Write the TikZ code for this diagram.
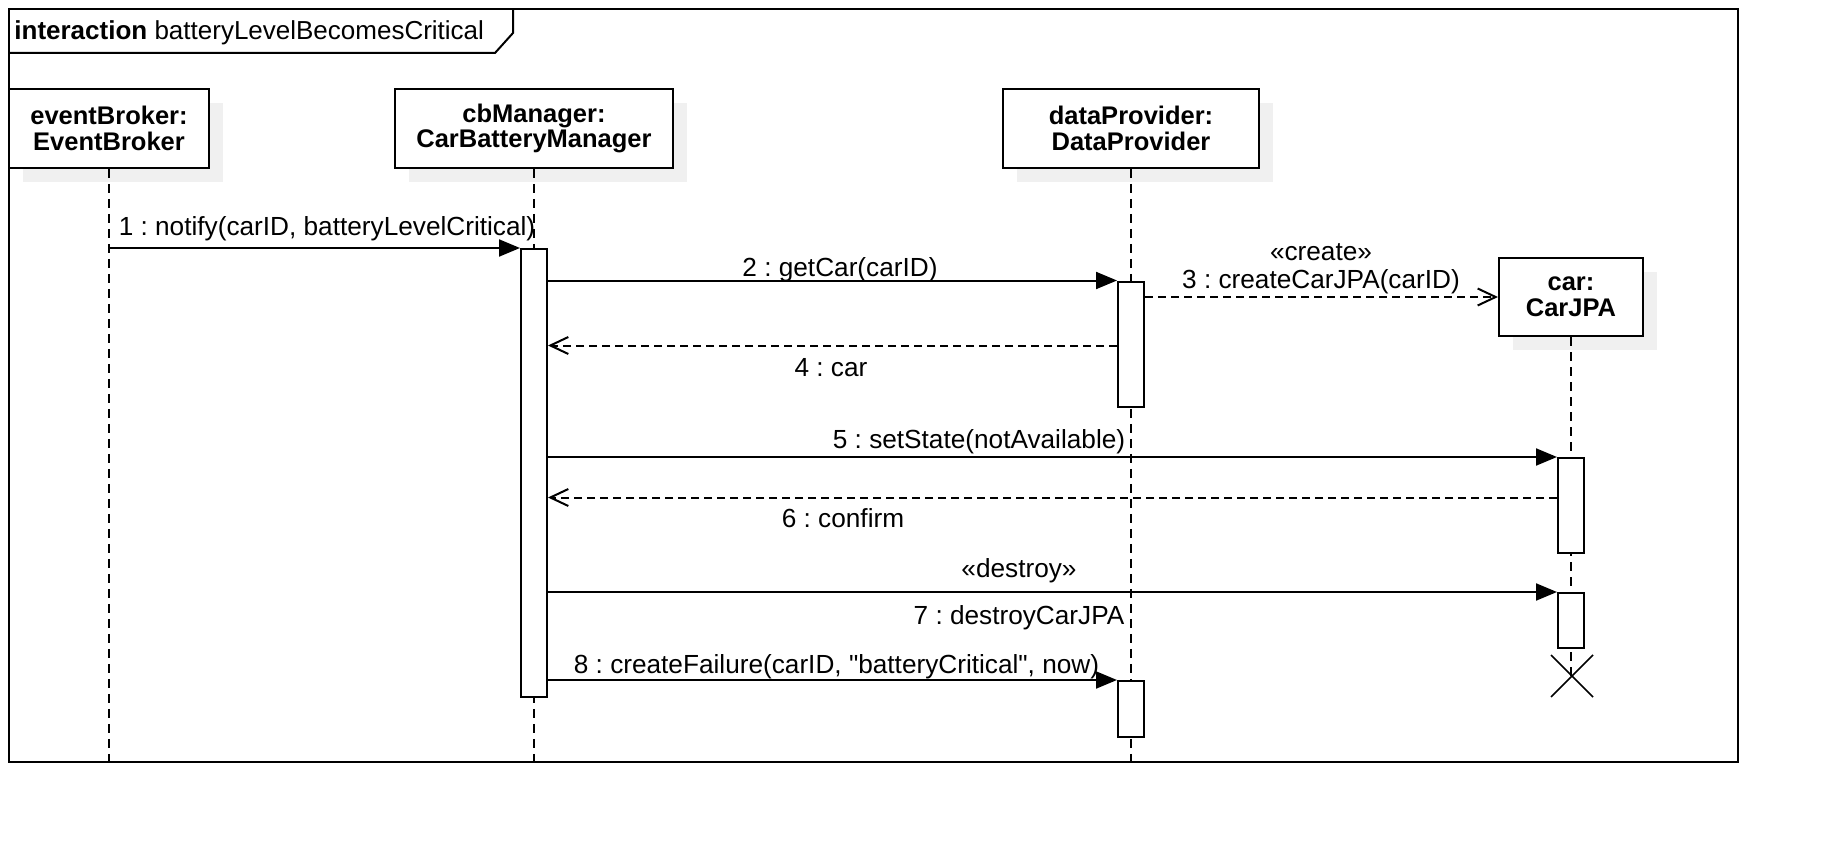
\documentclass[tikz,border=0pt]{standalone}
\usepackage{fontspec}
\setmainfont{Liberation Sans}[Ligatures=TeXOff]
\usetikzlibrary{arrows.meta,shadows,calc}
\frenchspacing
\begin{document}
\begin{tikzpicture}[x=0.5pt,y=-0.5pt,
  every node/.style={font=\fontsize{13.1pt}{13pt}\selectfont},
  head/.style={draw, line width=1pt, fill=white, align=center, inner sep=0pt,
    minimum height=39.65pt, font=\fontsize{12.75pt}{12.8pt}\selectfont\bfseries,
    general shadow={fill=black!6, shadow xshift=7pt, shadow yshift=-7pt}},
  act/.style={draw, line width=1pt, fill=white, minimum width=13pt, inner sep=0pt},
  lifeline/.style={line width=1pt, dash pattern=on 4.5pt off 3pt},
  msg/.style={line width=1pt, -{Triangle[length=10.5pt,width=8.5pt]}},
  ret/.style={line width=1pt, dash pattern=on 4pt off 2.5pt, -{Straight Barb[length=9pt,width=8.5pt,line width=1pt]}},
  lbl/.style={anchor=base, inner sep=0pt}
]
\useasboundingbox[fill=white] (0,0) rectangle (1828,856);
% frame
\draw[line width=1pt] (9,9) rectangle (1738,762);
\draw[line width=1pt] (9,53) -- (495,53) -- (513,33) -- (513,9);
\node[anchor=base west, inner sep=0pt, font=\fontsize{13pt}{13pt}\selectfont] (title) at (14,40) {\textbf{interaction} batteryLevelBecomesCritical};
\coordinate (fb) at (0,762);
% lifeline heads
\node[head, minimum width=100pt] (eb) at (109,128.3) {eventBroker:\\EventBroker};
\node[head, minimum width=139pt] (cb) at (534,128.3) {cbManager:\\CarBatteryManager};
\node[head, minimum width=128pt] (dp) at (1131,128.3) {dataProvider:\\DataProvider};
\node[head, minimum width=72pt, minimum height=39pt] (car) at (1571,297) {car:\\CarJPA};
% destruction point
\coordinate (xd) at (1572,676);
% lifelines
\draw[lifeline] (eb.south) -- (eb.south |- fb);
\draw[lifeline] (cb.south) -- (cb.south |- fb);
\draw[lifeline] (dp.south) -- (dp.south |- fb);
\draw[lifeline] (car.south) -- (car.south |- xd);
% activations
\node[act, minimum height=224pt] (cbA) at (534,473) {};
\node[act, minimum height=62.75pt] (dpA1) at (1131,344.25) {};
\node[act, minimum height=28pt] (dpA2) at (1131,709) {};
\node[act, minimum height=47.3pt] (carA1) at (1571,505.3) {};
\node[act, minimum height=27.5pt] (carA2) at (1571,620.5) {};
% destruction X
\draw[line width=0.8pt] ($(xd)+(-21,-21)$) -- ($(xd)+(21,21)$);
\draw[line width=0.8pt] ($(xd)+(-21,21)$) -- ($(xd)+(21,-21)$);
% messages
\coordinate (m4) at (0,345.5);
\coordinate (m6) at (0,497.5);
\draw[msg] (eb.south |- cbA.north) -- (cbA.north west);
\draw[msg] (cbA.north east |- dpA1.north) -- (dpA1.north west);
\draw[ret] (dpA1.east |- car.west) -- (car.west);
\draw[ret] (dpA1.west |- m4) -- (cbA.east |- m4);
\draw[msg] (cbA.east |- carA1.north) -- (carA1.north west);
\draw[ret] (carA1.west |- m6) -- (cbA.east |- m6);
\draw[msg] (cbA.east |- carA2.north) -- (carA2.north west);
\draw[msg] (cbA.east |- dpA2.north) -- (dpA2.north west);
% labels
\node[lbl] (l1) at (327,235.5) {1 : notify(carID, batteryLevelCritical)};
\node[lbl] (l2) at (840,276.5) {2 : getCar(carID)};
\node[lbl] (l3a) at (1321,260) {«create»};
\node[lbl] (l3b) at (1321,288.3) {3 : createCarJPA(carID)};
\node[lbl] (l4) at (831,376.7) {4 : car};
\node[lbl] (l5) at (979,448.3) {5 : setState(notAvailable)};
\node[lbl] (l6) at (843,527.3) {6 : confirm};
\node[lbl] (l7a) at (1019,577.3) {«destroy»};
\node[lbl] (l7b) at (1019,624) {7 : destroyCarJPA};
\node[lbl] (l8) at (836.5,673.3) {8 : createFailure(carID, "batteryCritical", now)};
\end{tikzpicture}
\end{document}
